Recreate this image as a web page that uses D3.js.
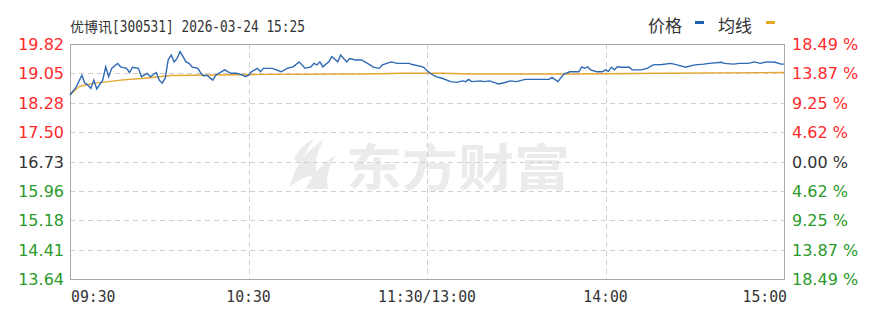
<!DOCTYPE html>
<html><head><meta charset="utf-8">
<script src="https://cdn.jsdelivr.net/npm/d3@7"></script>
<style>html,body{margin:0;padding:0;background:#fff;}svg{display:block;}</style>
</head><body>
<script>
const stockName = "优博讯";
const titleRest = "[300531] 2026-03-24 15:25";
const prevClose = 16.73;
const priceTicks = [19.82, 19.05, 18.28, 17.50, 16.73, 15.96, 15.18, 14.41, 13.64];
const pctTicks = ["18.49", "13.87", "9.25", "4.62", "0.00", "4.62", "9.25", "13.87", "18.49"];
const timeTicks = [0, 60, 120, 180, 240];
const timeLabels = ["09:30", "10:30", "11:30/13:00", "14:00", "15:00"];
const legendNames = ["价格", "均线"];

const priceMin = [0,2,4,5,6,7,8,9,11,12, 13,14,16,17,19,20,21,23,24,26, 27,29,30,31,32,33,34,35,36,37,
  38,39,40,41,43,44,45,46,48,49, 50,52,54,56,58,59,60,61,63,64, 65,68,71,73,75,77,79,81,82,83,
  84,85,87,88,90,91,93,94,96,98, 100,102,104,105,108,110,111,114,115,118, 119,120,121,123,125,128,130,132,133,134,
  135,138,139,141,143,144,146,148,150,151, 153,161,162,164,166,168,171,172,173,174, 175,177,179,180,181,182,183,184,185,188,
  189,192,194,196,199,202,204,207,210,213, 215,219,220,223,225,228,230,232,234,237, 239,240];
const priceVal = [18.48,18.68,19.00,18.79,18.74,18.65,18.87,18.64,18.87,19.22, 18.96,19.18,19.31,19.22,19.18,19.07,19.21,19.18,18.96,19.05,
  18.96,19.07,18.87,18.79,18.92,19.40,19.53,19.35,19.44,19.62, 19.49,19.35,19.31,19.22,19.18,19.05,18.98,19.00,18.87,19.00,
  19.05,19.14,19.05,19.05,19.00,18.96,19.00,19.09,19.18,19.09, 19.18,19.18,19.09,19.18,19.22,19.35,19.18,19.22,19.31,19.27,
  19.35,19.22,19.35,19.49,19.35,19.53,19.35,19.44,19.40,19.40, 19.31,19.21,19.18,19.27,19.35,19.31,19.31,19.31,19.28,19.23,
  19.20,19.12,19.05,18.96,18.92,18.83,18.81,18.85,18.83,18.89, 18.83,18.85,18.83,18.85,18.80,18.77,18.80,18.85,18.83,18.85,
  18.89,18.89,18.94,18.83,19.03,19.09,19.09,19.22,19.18,19.22, 19.14,19.09,19.09,19.14,19.10,19.21,19.14,19.22,19.21,19.21,
  19.14,19.14,19.18,19.27,19.28,19.31,19.27,19.21,19.27,19.29, 19.31,19.34,19.31,19.29,19.31,19.31,19.35,19.31,19.35,19.34,
  19.29,19.29];
const avgMin = [0,3,8,13,17,25,34,41,64,100,112,125,135,170,200,240];
const avgVal = [18.48,18.70,18.79,18.83,18.87,18.92,18.99,19.00,19.02,19.03,19.05,19.05,19.03,19.03,19.05,19.07];

const W = 871, H = 309;
const L = 70, R = 784, T = 44, B = 279;
const svg = d3.select("body").append("svg").attr("width", W).attr("height", H);

const x = d3.scaleLinear().domain([0, 240]).range([L, R]);
const y = d3.scaleLinear().domain([13.64, 19.82]).range([B, T]);

const RED = "#ff2a2a", GREEN = "#2a9a2a", DARK = "#333";

// watermark
const wm = svg.append("g").attr("fill", "#ebebeb");
wm.append("text").attr("x", 346).attr("y", 186)
  .attr("font-family", "Noto Sans CJK SC").attr("font-weight", "bold").attr("font-size", 50)
  .attr("textLength", 224).attr("lengthAdjust", "spacingAndGlyphs").text("东方财富");
const lg = wm.append("g").attr("transform", "translate(312,165)");
lg.append("path").attr("d", "M-22,22 C-18,2 -6,-14 12,-26 C4,-12 2,0 6,14 C-2,8 -10,12 -22,22 Z");
lg.append("path").attr("d", "M-6,24 C0,10 10,-2 24,-10 C16,2 14,12 16,24 Z");
lg.append("path").attr("d", "M-18,-6 C-14,-16 -6,-22 2,-26 C-4,-18 -8,-10 -10,0 Z");

// grid
const grid = svg.append("g").attr("stroke", "#d0d0d0").attr("stroke-dasharray", "5,4").attr("stroke-width", 1);
grid.selectAll("line.h").data(priceTicks.slice(1, -1)).join("line")
  .attr("x1", L).attr("x2", R).attr("y1", d => Math.round(y(d)) + 0.5).attr("y2", d => Math.round(y(d)) + 0.5);
grid.selectAll("line.v").data(timeTicks.slice(1, -1)).join("line")
  .attr("y1", T).attr("y2", B).attr("x1", d => Math.round(x(d)) + 0.5).attr("x2", d => Math.round(x(d)) + 0.5);

// frame
svg.append("rect").attr("x", L + 0.5).attr("y", T + 0.5).attr("width", R - L).attr("height", B - T)
  .attr("fill", "none").attr("stroke", "#a8a8a8");

// lines
const avgData = avgMin.map((m, i) => [m, avgVal[i]]);
const priceData = priceMin.map((m, i) => [m, priceVal[i]]);
const line = d3.line().x(d => x(d[0])).y(d => y(d[1]));
svg.append("path").datum(avgData).attr("d", line).attr("fill", "none").attr("stroke", "#e6a632").attr("stroke-width", 1.4);
svg.append("path").datum(priceData).attr("d", line).attr("fill", "none").attr("stroke", "#2e69b5").attr("stroke-width", 1.4);

// left axis labels
const colorFor = v => v > prevClose + 1e-6 ? RED : (v < prevClose - 1e-6 ? GREEN : DARK);
svg.append("g").selectAll("text").data(priceTicks).join("text")
  .attr("x", 64).attr("y", d => y(d) + 6).attr("text-anchor", "end")
  .attr("font-family", "DejaVu Sans").attr("font-size", 16)
  .attr("fill", d => colorFor(d)).text(d => d.toFixed(2));

// right axis labels
svg.append("g").selectAll("text").data(pctTicks).join("text")
  .attr("x", 792).attr("y", (d, i) => y(priceTicks[i]) + 6)
  .attr("font-family", "DejaVu Sans").attr("font-size", 16)
  .attr("fill", (d, i) => colorFor(priceTicks[i])).text(d => d + " %");

// time labels
svg.append("g").selectAll("text").data(timeTicks).join("text")
  .attr("x", d => x(d) + (d === 0 ? 1 : d === 240 ? 3 : 0)).attr("y", 302)
  .attr("text-anchor", (d, i) => i === 0 ? "start" : (i === timeTicks.length - 1 ? "end" : "middle"))
  .attr("font-family", "DejaVu Sans Mono").attr("font-size", 16).attr("fill", DARK)
  .attr("textLength", (d, i) => timeLabels[i].length * 8.9).attr("lengthAdjust", "spacingAndGlyphs")
  .text((d, i) => timeLabels[i]);

// title (single text element)
const title = svg.append("text").attr("x", 70).attr("y", 32).attr("fill", DARK);
title.append("tspan").attr("font-family", "Noto Sans CJK SC").attr("font-size", 14).text(stockName);
title.append("tspan").attr("font-family", "DejaVu Sans Mono").attr("font-size", 15.5)
  .attr("textLength", 193).attr("lengthAdjust", "spacingAndGlyphs").text(titleRest);

// legend
const leg = svg.append("g");
leg.append("text").attr("x", 648).attr("y", 32).attr("font-family", "Noto Sans CJK SC").attr("font-size", 17)
  .attr("fill", DARK).text(legendNames[0]);
leg.append("rect").attr("x", 695).attr("y", 21).attr("width", 9).attr("height", 3).attr("fill", "#1f5fb0");
leg.append("text").attr("x", 718).attr("y", 32).attr("font-family", "Noto Sans CJK SC").attr("font-size", 17)
  .attr("fill", DARK).text(legendNames[1]);
leg.append("rect").attr("x", 766).attr("y", 21).attr("width", 9).attr("height", 3).attr("fill", "#e0a824");
</script>
</body></html>
